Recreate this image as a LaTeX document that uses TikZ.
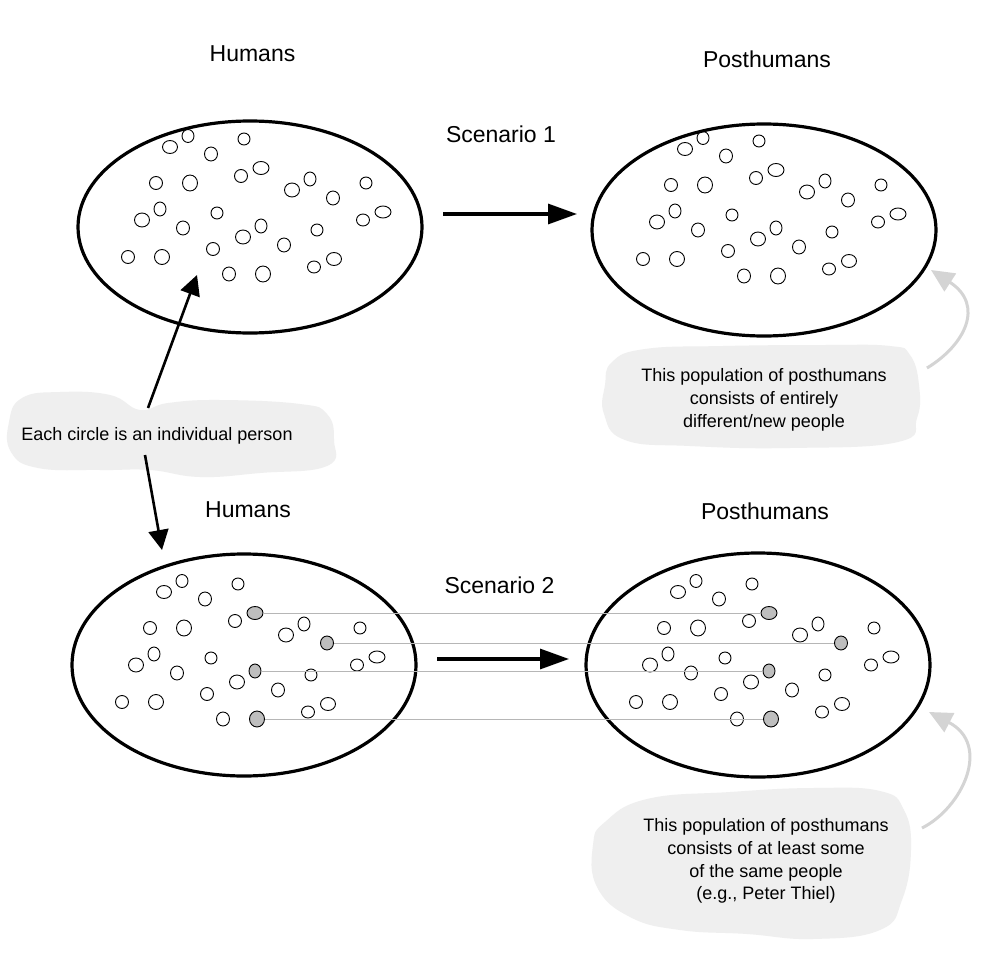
\documentclass[tikz,border=0pt]{standalone}
\usepackage{fontspec}
\setmainfont{Liberation Sans}
\usetikzlibrary{shapes.geometric,arrows.meta}
\definecolor{blobfill}{RGB}{239,239,239}
\definecolor{dotgray}{RGB}{190,190,190}
\definecolor{linkgray}{RGB}{182,182,182}
\definecolor{curvegray}{RGB}{212,212,212}
\tikzset{
  population/.style={draw, ellipse, line width=3.2pt, minimum width=344pt, minimum height=212pt, inner sep=0pt},
  persondot/.style={draw, ellipse, line width=0.9pt, inner sep=0pt},
  keptdot/.style={persondot, fill=dotgray},
  title/.style={font=\fontsize{23}{28}\selectfont, anchor=base},
  note/.style={font=\fontsize{18}{22.8}\selectfont, align=center},
  blob/.style={fill=blobfill, draw=none},
  flow/.style={line width=3.2pt, -{Triangle[length=29pt,width=20pt]}},
  pointer/.style={line width=2.6pt, -{Triangle[length=20pt,width=20pt]}},
  link/.style={draw=linkgray, line width=0.9pt},
  hint/.style={draw=curvegray, line width=3pt, -{Triangle[length=23pt,width=21pt]}},
}
% #1 prefix, #2 dx, #3 dy, #4 style of the four tracked people
\newcommand\crowd[4]{%
  \foreach \px/\py/\pw/\ph [count=\k] in {170/147/15/13, 188/136/12/13, 211/154/13/14, 244/139/12/12,
      156/183/13/13, 190/183/15/16, 241/176/13/13, 292/190/15/14, 310/179/12/14, 366/183/12/12,
      160/209/12/14, 142/220/15/14, 183/228/13/14, 217/213/12/12, 243/237/15/14, 284/245/13/14,
      317/230/12/12, 363/220/13/12, 383/212/16/12, 128/257/13/13, 162/257/15/15, 213/249/13/13,
      229/274/13/14, 314/267/13/12, 334/259/15/13}{%
    \node[persondot, minimum width=\pw pt, minimum height=\ph pt] (#1p\k) at (\px+#2,\py+#3) {};
  }%
  \foreach \px/\py/\pw/\ph [count=\k] in {261/168/16/13, 333/198/13/14, 261/226/12/14, 263/274/15/16}{%
    \node[#4, minimum width=\pw pt, minimum height=\ph pt] (#1g\k) at (\px+#2,\py+#3) {};
  }%
}
\begin{document}
\begin{tikzpicture}[x=1pt,y=-1pt]
\useasboundingbox (0,0) rectangle (991,958);
\fill[white] (0,0) rectangle (991,958);

% note blobs
\fill[blob] plot[smooth cycle, tension=0.75] coordinates {(9,422) (22,398) (60,392) (110,395) (140,410) (168,403) (220,400) (300,404) (327,414) (334,440) (327,466) (260,473) (200,477) (150,470) (100,470) (38,468) (11,452)};
\fill[blob] plot[smooth cycle, tension=0.75] coordinates {(612,362) (645,349) (723,346) (823,345) (890,346) (910,355) (919,385) (917,418) (898,442) (790,448) (690,446) (625,440) (604,414) (605,385)};
\fill[blob] plot[smooth cycle, tension=0.75] coordinates {(605,822) (647,799) (730,792) (813,788) (880,791) (904,810) (911,850) (902,900) (880,930) (813,939) (747,934) (680,930) (630,917) (597,887) (593,845)};

% populations
\node[population] (h1) at (250,227) {};
\node[population] (p1) at (764,230) {};
\node[population, minimum height=222pt] (h2) at (244,665) {};
\node[population, minimum height=224pt] (p2) at (758,665) {};

\crowd{a}{0}{0}{persondot}
\crowd{b}{515}{2}{persondot}
\crowd{c}{-6}{445}{keptdot}
\crowd{d}{508}{445}{keptdot}

\foreach \k in {1,...,4}{\draw[link] (cg\k) -- (dg\k);}

% titles
\node[title] (t1) at (252.5,62) {Humans};
\node[title] (t2) at (767,67) {Posthumans};
\node[title] (t3) at (501,142) {Scenario 1};
\node[title] (t4) at (248,517) {Humans};
\node[title] (t5) at (765,519) {Posthumans};
\node[title] (t6) at (499.5,593) {Scenario 2};

% transition arrows
\coordinate (s1a) at (443,214);
\coordinate (s1b) at (577,214);
\coordinate (s2a) at (437,659);
\coordinate (s2b) at (569,659);
\draw[flow] (s1a) -- (s1b);
\draw[flow] (s2a) -- (s2b);

% notes
\node[note] (n0) at (157,436) {Each circle is an individual person};
\node[note] (n1) at (764,400) {This population of posthumans\\consists of entirely\\different/new people};
\node[note] (n2) at (766,861) {This population of posthumans\\consists of at least some\\of the same people\\(e.g., Peter Thiel)};

\coordinate (n0up) at (148,408);
\coordinate (n0dn) at (145,455);
\coordinate (h1in) at (197,275);
\coordinate (h2in) at (162,550);
\draw[pointer] (n0up) -- (h1in);
\draw[pointer] (n0dn) -- (h2in);

\coordinate (n1out) at (927,368);
\coordinate (p1in) at (931,270);
\coordinate (n2out) at (922,828);
\coordinate (p2in) at (929,712);
\draw[hint] (n1out) .. controls (965,345) and (985,305) .. (p1in);
\draw[hint] (n2out) .. controls (962,808) and (992,745) .. (p2in);
\end{tikzpicture}
\end{document}
